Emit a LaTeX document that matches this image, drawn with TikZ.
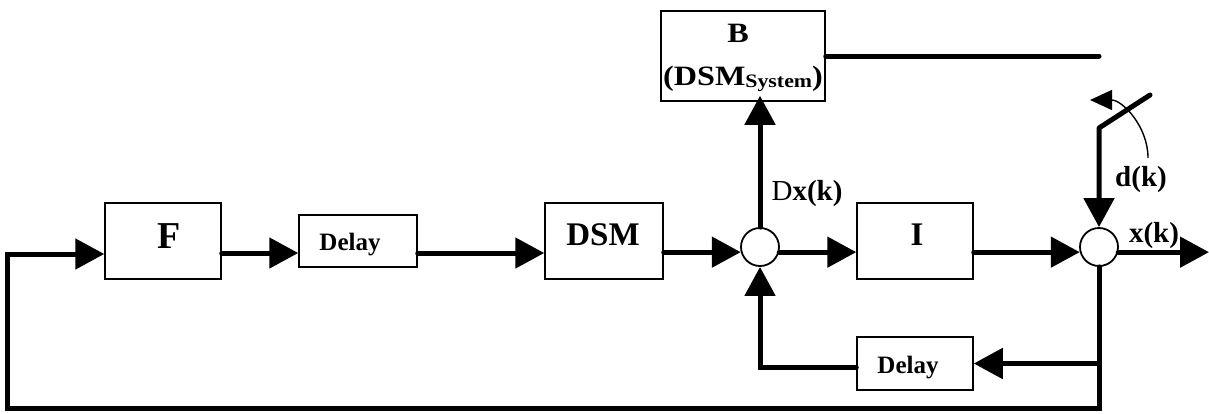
\documentclass[tikz,border=0pt]{standalone}
\usepackage{fontspec}
\usepackage{graphicx}
\setmainfont{Liberation Serif}
\usetikzlibrary{arrows.meta}
\newcommand{\fs}[1]{\fontsize{#1}{#1}\selectfont}
\begin{document}
\begin{tikzpicture}[x=1pt,y=-1pt,
  box/.style={draw, line width=1.5pt, inner sep=0pt},
  sumnode/.style={draw, circle, line width=1.8pt, minimum size=38pt, inner sep=0pt},
  txt/.style={anchor=base, inner sep=0pt, font=\bfseries},
  wire/.style={line width=5pt, line cap=round},
  flow/.style={wire, -{Triangle[length=29pt,width=30pt]}},
  thinflow/.style={line width=1.4pt, -{Triangle[length=22pt,width=20pt]}},
  lbl/.style={anchor=base, inner sep=0pt, font=\bfseries\fs{29}},
]
\useasboundingbox (0,0) rectangle (1209,413);

% blocks
\node[box, minimum width=116pt, minimum height=76pt] (F)   at (163,241) {};
\node[box, minimum width=118pt, minimum height=52pt] (D1)  at (358,241) {};
\node[box, minimum width=118pt, minimum height=76pt] (DSM) at (604,241) {};
\node[box, minimum width=116pt, minimum height=76pt] (I)   at (915,241) {};
\node[box, minimum width=116pt, minimum height=53pt] (D2)  at (915,363.5) {};
\node[box, minimum width=164pt, minimum height=90pt] (B)   at (743,56) {};

% block texts
\node[txt, font=\bfseries\fs{38}] (Ft)   at (169,248) {F};
\node[txt, font=\bfseries\fs{25}] (D1t)  at (350,250) {Delay};
\node[txt, font=\bfseries\fs{33}] (DSMt) at (603,245) {DSM};
\node[txt, font=\bfseries\fs{33}] (It)   at (917,245) {I};
\node[txt, font=\bfseries\fs{25}] (D2t)  at (908,373) {Delay};
\node[txt, font=\bfseries\fs{28}] (Bt1)  at (738,42) {\scalebox{1.15}[1]{B}};
\node[txt, font=\bfseries\fs{28}] (Bt2)  at (743,85)
  {\scalebox{1.15}[1]{(DSM\raisebox{-2pt}{\fs{19}System})}};

% summing junctions
\node[sumnode] (S1) at (760,247) {};
\node[sumnode] (S2) at (1099,247) {};

% helper points
\coordinate (BL)    at (7,408);
\coordinate (out)   at (1209,252);
\coordinate (swtop) at (1150,95);
\coordinate (swkn)  at (1099,128);

% forward path
\draw[flow] ([yshift=-12pt]F.east) -- ([yshift=-12pt]D1.west);
\draw[flow] ([yshift=-12pt]D1.east) -- ([yshift=-12pt]DSM.west);
\draw[flow] (S1.195 -| DSM.east) -- (S1.195);
\draw[flow] (S1.-15) -- (S1.-15 -| I.west);
\draw[flow] (I.east |- S2.195) -- (S2.195);
\draw[flow] (S2.-15) -- (S2.-15 -| out);

% branch to B and its output line
\draw[flow] (S1.north) -- ([yshift=6pt]S1.north |- B.south);
\draw[wire] (B.east) -- (B.east -| S2.center);

% switch and disturbance input
\draw[flow, line join=round] (swtop) -- (swkn) -- (S2.north);
\draw[thinflow] (1148,158) arc[start angle=0, end angle=-90, radius=58];

% feedback paths
\draw[flow] (S2.south) -- (S2.south |- BL) -- (BL) |- ([yshift=-13pt]F.west);
\draw[flow] (S2.south |- D2.east) -- (D2.east);
\draw[flow] ([yshift=-4pt]D2.west) -| (S1.south);

% signal labels
\node[lbl] (dx) at (807,200) {{\mdseries D}x(k)};
\node[lbl] (dk) at (1141,186) {d(k)};
\node[lbl] (xk) at (1154,242) {x(k)};
\end{tikzpicture}
\end{document}
